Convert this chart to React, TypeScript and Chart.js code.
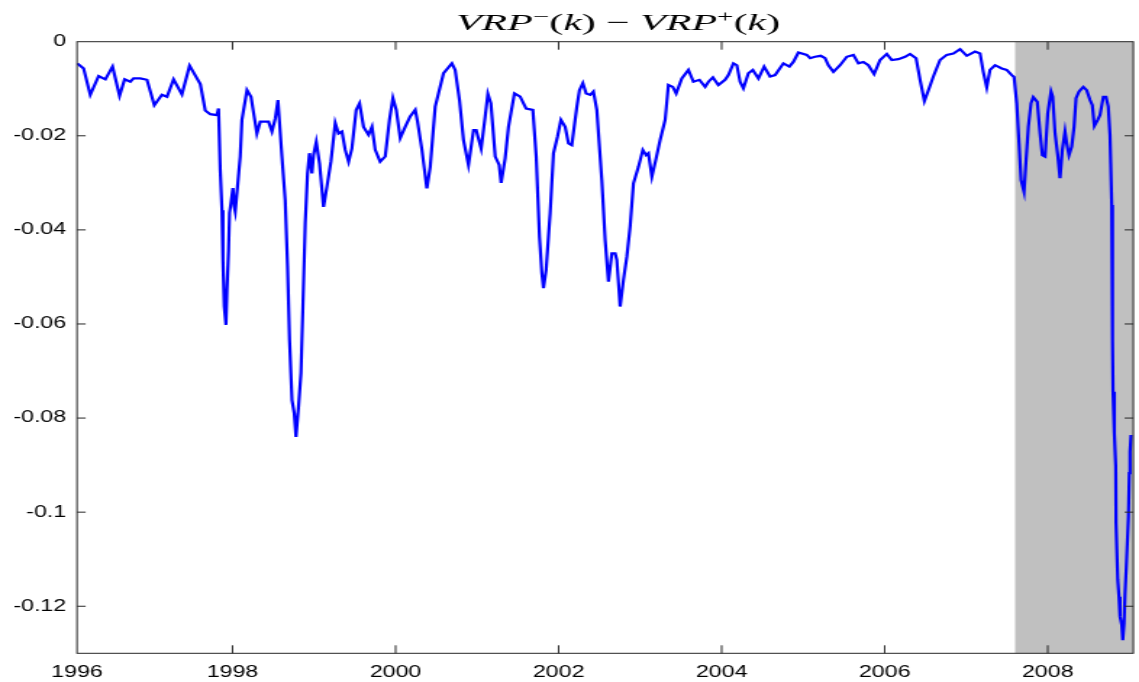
import { useEffect, useRef } from 'react';
import { Chart, registerables } from 'chart.js';

Chart.register(...registerables);

// ---- data (decimal years, VRP-(k) - VRP+(k)) ----
const dates = [
  1996.095, 1996.173, 1996.255, 1996.357, 1996.439, 1996.528, 1996.614, 1996.676, 1996.745, 1996.786,
  1996.868, 1996.950, 1997.040, 1997.134, 1997.196, 1997.276, 1997.379, 1997.473, 1997.604, 1997.665,
  1997.727, 1997.809, 1997.828, 1997.849, 1997.870, 1997.882, 1997.898, 1997.919, 1997.931, 1997.951,
  1997.963, 1997.980, 1998.005, 1998.021, 1998.033, 1998.061, 1998.094, 1998.115, 1998.177, 1998.226,
  1998.299, 1998.340, 1998.442, 1998.483, 1998.524, 1998.557, 1998.606, 1998.646, 1998.675, 1998.699,
  1998.729, 1998.757, 1998.778, 1998.809, 1998.839, 1998.863, 1998.892, 1998.920, 1998.944, 1998.974,
  1998.993, 1999.027, 1999.067, 1999.116, 1999.158, 1999.207, 1999.260, 1999.300, 1999.342, 1999.382,
  1999.423, 1999.464, 1999.517, 1999.558, 1999.607, 1999.668, 1999.710, 1999.750, 1999.811, 1999.873,
  1999.925, 1999.967, 2000.008, 2000.057, 2000.118, 2000.179, 2000.241, 2000.269, 2000.323, 2000.384,
  2000.425, 2000.486, 2000.526, 2000.588, 2000.691, 2000.731, 2000.784, 2000.833, 2000.894, 2000.956,
  2000.989, 2001.050, 2001.099, 2001.132, 2001.169, 2001.222, 2001.271, 2001.295, 2001.344, 2001.385,
  2001.458, 2001.528, 2001.602, 2001.684, 2001.725, 2001.765, 2001.794, 2001.814, 2001.847, 2001.896,
  2001.937, 2001.986, 2002.028, 2002.080, 2002.121, 2002.162, 2002.224, 2002.256, 2002.297, 2002.338,
  2002.387, 2002.427, 2002.469, 2002.530, 2002.571, 2002.611, 2002.653, 2002.693, 2002.714, 2002.755,
  2002.795, 2002.837, 2002.877, 2002.918, 2002.979, 2003.033, 2003.074, 2003.102, 2003.144, 2003.196,
  2003.245, 2003.307, 2003.347, 2003.401, 2003.442, 2003.511, 2003.592, 2003.654, 2003.727, 2003.797,
  2003.838, 2003.892, 2003.960, 2004.042, 2004.083, 2004.144, 2004.186, 2004.226, 2004.267, 2004.328,
  2004.382, 2004.451, 2004.521, 2004.594, 2004.656, 2004.757, 2004.831, 2004.880, 2004.941, 2005.044,
  2005.085, 2005.146, 2005.216, 2005.269, 2005.309, 2005.371, 2005.453, 2005.535, 2005.616, 2005.677,
  2005.739, 2005.800, 2005.870, 2005.943, 2006.026, 2006.087, 2006.168, 2006.250, 2006.311, 2006.385,
  2006.434, 2006.487, 2006.536, 2006.597, 2006.679, 2006.761, 2006.842, 2006.925, 2007.007, 2007.108,
  2007.170, 2007.210, 2007.252, 2007.292, 2007.354, 2007.436, 2007.497, 2007.559, 2007.587, 2007.620,
  2007.648, 2007.673, 2007.709, 2007.734, 2007.762, 2007.795, 2007.823, 2007.872, 2007.906, 2007.934,
  2007.967, 2008.000, 2008.040, 2008.061, 2008.090, 2008.123, 2008.151, 2008.179, 2008.212, 2008.233,
  2008.261, 2008.294, 2008.323, 2008.347, 2008.384, 2008.437, 2008.478, 2008.519, 2008.547, 2008.572,
  2008.613, 2008.641, 2008.682, 2008.715, 2008.743, 2008.764, 2008.773, 2008.785, 2008.792, 2008.797,
  2008.801, 2008.817, 2008.834, 2008.838, 2008.859, 2008.874, 2008.887, 2008.908, 2008.920, 2008.936,
  2008.948, 2008.964, 2008.990, 2009.001, 2009.010, 2009.022,
];

const vrpDiff = [
  -0.0046, -0.0057, -0.0113, -0.0073, -0.0080, -0.0053, -0.0115, -0.0080, -0.0085, -0.0078,
  -0.0078, -0.0081, -0.0135, -0.0113, -0.0117, -0.0080, -0.0112, -0.0051, -0.0090, -0.0146,
  -0.0154, -0.0156, -0.0142, -0.0273, -0.0358, -0.0464, -0.0563, -0.0602, -0.0528, -0.0443,
  -0.0364, -0.0343, -0.0311, -0.0351, -0.0361, -0.0308, -0.0244, -0.0166, -0.0103, -0.0117,
  -0.0195, -0.0170, -0.0170, -0.0191, -0.0163, -0.0124, -0.0244, -0.0337, -0.0478, -0.0634,
  -0.0762, -0.0790, -0.0840, -0.0776, -0.0704, -0.0563, -0.0385, -0.0280, -0.0237, -0.0280,
  -0.0241, -0.0213, -0.0259, -0.0351, -0.0308, -0.0255, -0.0173, -0.0195, -0.0191, -0.0230,
  -0.0255, -0.0227, -0.0145, -0.0131, -0.0181, -0.0198, -0.0181, -0.0230, -0.0255, -0.0244,
  -0.0166, -0.0120, -0.0145, -0.0205, -0.0181, -0.0159, -0.0145, -0.0170, -0.0230, -0.0312,
  -0.0266, -0.0138, -0.0110, -0.0067, -0.0046, -0.0060, -0.0124, -0.0209, -0.0262, -0.0188,
  -0.0188, -0.0227, -0.0159, -0.0111, -0.0131, -0.0244, -0.0262, -0.0300, -0.0248, -0.0181,
  -0.0110, -0.0117, -0.0142, -0.0145, -0.0244, -0.0415, -0.0492, -0.0524, -0.0485, -0.0365,
  -0.0237, -0.0202, -0.0166, -0.0181, -0.0216, -0.0220, -0.0138, -0.0103, -0.0088, -0.0110,
  -0.0113, -0.0106, -0.0145, -0.0294, -0.0422, -0.0510, -0.0450, -0.0450, -0.0464, -0.0563,
  -0.0507, -0.0457, -0.0393, -0.0301, -0.0266, -0.0230, -0.0241, -0.0237, -0.0287, -0.0248,
  -0.0209, -0.0166, -0.0092, -0.0096, -0.0110, -0.0078, -0.0060, -0.0085, -0.0081, -0.0096,
  -0.0085, -0.0076, -0.0092, -0.0081, -0.0071, -0.0046, -0.0050, -0.0085, -0.0099, -0.0067,
  -0.0060, -0.0078, -0.0053, -0.0074, -0.0071, -0.0046, -0.0053, -0.0043, -0.0023, -0.0028,
  -0.0035, -0.0032, -0.0030, -0.0035, -0.0050, -0.0064, -0.0050, -0.0032, -0.0028, -0.0046,
  -0.0043, -0.0050, -0.0069, -0.0039, -0.0026, -0.0039, -0.0037, -0.0032, -0.0026, -0.0035,
  -0.0081, -0.0126, -0.0103, -0.0074, -0.0039, -0.0028, -0.0025, -0.0016, -0.0030, -0.0021,
  -0.0025, -0.0064, -0.0097, -0.0060, -0.0050, -0.0057, -0.0060, -0.0071, -0.0075, -0.0131,
  -0.0216, -0.0294, -0.0319, -0.0252, -0.0181, -0.0131, -0.0118, -0.0128, -0.0195, -0.0241,
  -0.0244, -0.0152, -0.0106, -0.0117, -0.0195, -0.0241, -0.0290, -0.0230, -0.0191, -0.0216,
  -0.0241, -0.0223, -0.0181, -0.0120, -0.0106, -0.0096, -0.0103, -0.0124, -0.0135, -0.0179,
  -0.0166, -0.0156, -0.0117, -0.0117, -0.0138, -0.0198, -0.0259, -0.0347, -0.0503, -0.0634,
  -0.0744, -0.0832, -0.0903, -0.1024, -0.1144, -0.1180, -0.1222, -0.1240, -0.1272, -0.1236,
  -0.1173, -0.1116, -0.1010, -0.0917, -0.0872, -0.0836,
];

const xTickValues = [1996, 1998, 2000, 2002, 2004, 2006, 2008];
const xTickLabels = ['1996', '1998', '2000', '2002', '2004', '2006', '2008'];
const yTickValues = [0, -0.02, -0.04, -0.06, -0.08, -0.1, -0.12];
const yTickLabels = ['0', '-0.02', '-0.04', '-0.06', '-0.08', '-0.1', '-0.12'];

const recessionStart = 2007.6;
const recessionEnd = 2009.05;

const xMin = 1996.092;
const xMax = 2009.05;
const yMin = -0.13;
const yMax = 0;

const titleSegments = [
  { text: 'VRP', italic: true, sup: false },
  { text: '\u2212', italic: false, sup: true },
  { text: '(', italic: false, sup: false },
  { text: 'k', italic: true, sup: false },
  { text: ')', italic: false, sup: false },
  { text: ' \u2212 ', italic: false, sup: false },
  { text: 'VRP', italic: true, sup: false },
  { text: '+', italic: false, sup: true },
  { text: '(', italic: false, sup: false },
  { text: 'k', italic: true, sup: false },
  { text: ')', italic: false, sup: false },
];

// ---- geometry (the picture is horizontally stretched) ----
const DISPLAY_W = 1139;
const DISPLAY_H = 682;
const CANVAS_W = 786;
const STRETCH = DISPLAY_W / CANVAS_W;
const PLOT_LEFT = 77 / STRETCH;
const PLOT_RIGHT = 1133.3 / STRETCH;
const PLOT_TOP = 41.7;
const PLOT_BOTTOM = 653.3;

const SANS = '"Liberation Sans", Arial, Helvetica, sans-serif';
const SERIF = '"Liberation Serif", "DejaVu Serif", serif';

const framePlugin = {
  id: 'matlabFrame',
  beforeDatasetsDraw(chart: any) {
    const { ctx, chartArea: a, scales } = chart;
    const x = scales.x;
    const x0 = x.getPixelForValue(recessionStart);
    const x1 = Math.min(x.getPixelForValue(recessionEnd), a.right);
    ctx.save();
    ctx.fillStyle = '#c0c0c0';
    ctx.fillRect(x0, a.top, x1 - x0, a.bottom - a.top);
    ctx.restore();
  },
  afterDraw(chart: any) {
    const { ctx, chartArea: a, scales } = chart;
    const x = scales.x;
    const y = scales.y;
    ctx.save();
    ctx.strokeStyle = '#262626';
    ctx.lineWidth = 1;
    ctx.strokeRect(a.left, a.top, a.right - a.left, a.bottom - a.top);
    ctx.beginPath();
    xTickValues.forEach((v) => {
      if (v <= x.min) return;
      const px = x.getPixelForValue(v);
      ctx.moveTo(px, a.bottom);
      ctx.lineTo(px, a.bottom - 8);
      ctx.moveTo(px, a.top);
      ctx.lineTo(px, a.top + 8);
    });
    yTickValues.forEach((v) => {
      if (v >= y.max) return;
      const py = y.getPixelForValue(v);
      ctx.moveTo(a.left, py);
      ctx.lineTo(a.left + 6, py);
      ctx.moveTo(a.right, py);
      ctx.lineTo(a.right - 6, py);
    });
    ctx.stroke();

    // title
    const mainSize = 23;
    const supSize = 16;
    const rise = 8;
    const fontFor = (s: any) =>
      `${s.italic ? 'italic ' : ''}${s.sup ? supSize : mainSize}px ${SERIF}`;
    let total = 0;
    const widths = titleSegments.map((s) => {
      ctx.font = fontFor(s);
      const w = ctx.measureText(s.text).width;
      total += w;
      return w;
    });
    const targetLeft = 456 / STRETCH;
    const targetWidth = 324 / STRETCH;
    const sx = targetWidth / total;
    ctx.translate(targetLeft, 30);
    ctx.scale(sx, 1);
    ctx.fillStyle = '#000';
    ctx.textBaseline = 'alphabetic';
    ctx.textAlign = 'left';
    let cx = 0;
    titleSegments.forEach((s, i) => {
      ctx.font = fontFor(s);
      ctx.fillText(s.text, cx, s.sup ? -rise : 0);
      cx += widths[i];
    });
    ctx.restore();
  },
};

export default function App() {
  const canvasRef = useRef<HTMLCanvasElement | null>(null);

  useEffect(() => {
    document.body.style.margin = '0';
    const canvas = canvasRef.current;
    if (!canvas) return;
    const n = Math.min(dates.length, vrpDiff.length);
    const points = [];
    for (let i = 0; i < n; i++) points.push({ x: dates[i], y: vrpDiff[i] });

    const chart = new Chart(canvas, {
      type: 'line',
      data: {
        datasets: [
          {
            label: 'VRP-(k) - VRP+(k)',
            data: points,
            borderColor: '#0000ff',
            borderWidth: 2.2,
            pointRadius: 0,
            tension: 0,
            fill: false,
          },
        ],
      },
      options: {
        animation: false,
        responsive: false,
        maintainAspectRatio: false,
        devicePixelRatio: 1,
        layout: {
          padding: {
            left: 0,
            top: PLOT_TOP,
            right: CANVAS_W - PLOT_RIGHT,
            bottom: 0,
          },
        },
        plugins: {
          legend: { display: false },
          title: { display: false },
          tooltip: { enabled: false },
        },
        scales: {
          x: {
            type: 'linear',
            min: xMin,
            max: xMax,
            grid: { display: false, drawTicks: false },
            border: { display: false },
            afterFit: (s: any) => {
              s.height = DISPLAY_H - PLOT_BOTTOM;
            },
            afterBuildTicks: (s: any) => {
              s.ticks = xTickValues.map((v) => ({ value: Math.max(v, s.min) }));
            },
            ticks: {
              autoSkip: false,
              maxRotation: 0,
              padding: 10,
              color: '#000',
              font: { family: SANS, size: 16 },
              callback: (_v: any, i: number) => xTickLabels[i],
            },
          },
          y: {
            type: 'linear',
            min: yMin,
            max: yMax,
            grid: { display: false, drawTicks: false },
            border: { display: false },
            afterFit: (s: any) => {
              s.width = PLOT_LEFT;
            },
            afterBuildTicks: (s: any) => {
              s.ticks = yTickValues.map((v) => ({ value: v }));
            },
            ticks: {
              autoSkip: false,
              padding: 7.5,
              color: '#000',
              font: { family: SANS, size: 16 },
              callback: (_v: any, i: number) => yTickLabels[i],
            },
          },
        },
      },
      plugins: [framePlugin],
    });
    return () => chart.destroy();
  }, []);

  return (
    <div style={{ width: DISPLAY_W, height: DISPLAY_H }}>
      <canvas
        ref={canvasRef}
        width={CANVAS_W}
        height={DISPLAY_H}
        style={{ width: `${DISPLAY_W}px`, height: `${DISPLAY_H}px`, display: 'block' }}
      />
    </div>
  );
}
